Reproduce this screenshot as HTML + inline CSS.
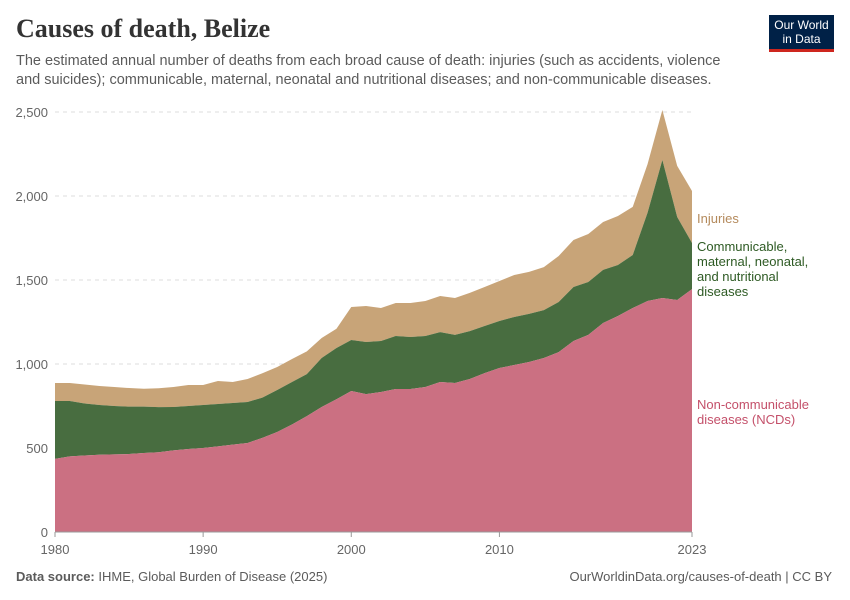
<!DOCTYPE html>
<html><head><meta charset="utf-8"><style>
body{margin:0;background:#fff;font-family:"Liberation Sans",sans-serif;}
#wrap{position:relative;width:850px;height:600px;overflow:hidden}
.t{position:absolute;margin:0}
</style></head><body>
<div id="wrap">
<h1 class="t" style="left:16px;top:14px;font-family:'Liberation Serif',serif;font-size:26px;font-weight:bold;color:#333">Causes of death, Belize</h1>
<p class="t" style="left:16px;top:52px;width:720px;font-size:14.5px;line-height:19px;color:#5b5b5b">The estimated annual number of deaths from each broad cause of death: injuries (such as accidents, violence and suicides); communicable, maternal, neonatal and nutritional diseases; and non-communicable diseases.</p>
<div style="position:absolute;left:769px;top:15px;width:65px;height:37px;background:#002147;border-bottom:3px solid #ce261e;color:#fff;font-size:12px;line-height:14px;text-align:center;padding-top:3px;box-sizing:border-box">Our World<br>in Data</div>
<svg id="chart" width="850" height="600" style="position:absolute;left:0;top:0"></svg>
<p class="t" style="left:16px;top:569px;font-size:13px;color:#5b5b5b"><b>Data source:</b> IHME, Global Burden of Disease (2025)</p>
<p class="t" style="right:18px;top:569px;font-size:13px;color:#5b5b5b">OurWorldinData.org/causes-of-death | CC BY</p>
</div>
<script>
const years=[1980,1981,1982,1983,1984,1985,1986,1987,1988,1989,1990,1991,1992,1993,1994,1995,1996,1997,1998,1999,2000,2001,2002,2003,2004,2005,2006,2007,2008,2009,2010,2011,2012,2013,2014,2015,2016,2017,2018,2019,2020,2021,2022,2023];
const ncd=[435,450,455,460,462,464,470,475,486,494,500,510,520,530,560,595,640,690,744,790,839,821,833,851,851,863,893,887,911,946,976,994,1012,1036,1071,1137,1173,1244,1286,1333,1375,1393,1381,1446];
const comm=[345,330,310,296,288,282,276,268,258,256,256,252,248,244,240,250,253,250,292,305,304,310,304,316,310,304,297,286,285,280,280,286,286,285,298,321,315,316,303,316,525,821,494,274];
const inj=[107,107,113,113,113,111,107,113,119,125,119,137,125,137,145,137,137,135,119,115,196,214,196,196,202,208,215,220,227,232,238,250,250,256,274,280,286,285,292,286,290,298,304,310];
const yTicks=[0,500,1000,1500,2000,2500];
const xTicks=[1980,1990,2000,2010,2023];
const X0=55,X1=692,Y0=532,Y1=112;
const xs=y=>X0+(y-1980)/(2023-1980)*(X1-X0);
const ys=v=>Y0-v/2500*(Y0-Y1);
const NS="http://www.w3.org/2000/svg";
const svg=document.getElementById('chart');
function mk(t,a){const e=document.createElementNS(NS,t);for(const k in a)e.setAttribute(k,a[k]);svg.appendChild(e);return e;}
yTicks.forEach(v=>{
 if(v>0){const g=mk('line',{x1:X0,x2:X1,y1:ys(v),y2:ys(v),stroke:'#ddd','stroke-dasharray':'4,4'});
 
 }
 const t=mk('text',{x:48,y:ys(v)+5,'text-anchor':'end','font-size':13,fill:'#666'});t.textContent=v.toLocaleString('en-US');
 
 
});
const c1=ncd.map(v=>v), c2=ncd.map((v,i)=>v+comm[i]), c3=c2.map((v,i)=>v+inj[i]);
function area(top,bot,fill,name){
 let d='M'+years.map((y,i)=>xs(y)+','+ys(top[i])).join('L');
 for(let i=years.length-1;i>=0;i--)d+='L'+xs(years[i])+','+ys(bot?bot[i]:0);
 const p=mk('path',{d:d+'Z',fill:fill});
 
 
}
area(c3,c2,'#c8a478','injuries-area');
area(c2,c1,'#486d40','communicable-area');
area(c1,null,'#cb7082','ncd-area');
const ax=mk('line',{x1:X0,x2:X1,y1:Y0,y2:Y0,stroke:'#999'});


xTicks.forEach(y=>{
 const l=mk('line',{x1:xs(y),x2:xs(y),y1:Y0,y2:Y0+5,stroke:'#999'});
 
 
 const t=mk('text',{x:xs(y),y:Y0+22,'text-anchor':'middle','font-size':13,fill:'#666'});t.textContent=y;
 
 
});
function lab(lines,y,col,name){
 const t=mk('text',{x:697,y:y,'font-size':13,fill:col});
 
 
 lines.forEach((s,i)=>{const ts=document.createElementNS(NS,'tspan');ts.setAttribute('x',697);ts.setAttribute('dy',i?15:0);ts.textContent=s;t.appendChild(ts);});
}
lab(['Injuries'],223,'#b48a5c','legend-injuries');
lab(['Communicable,','maternal, neonatal,','and nutritional','diseases'],251,'#2d5a23','legend-communicable');
lab(['Non-communicable','diseases (NCDs)'],409,'#c4506a','legend-ncd');
</script>
</body></html>
